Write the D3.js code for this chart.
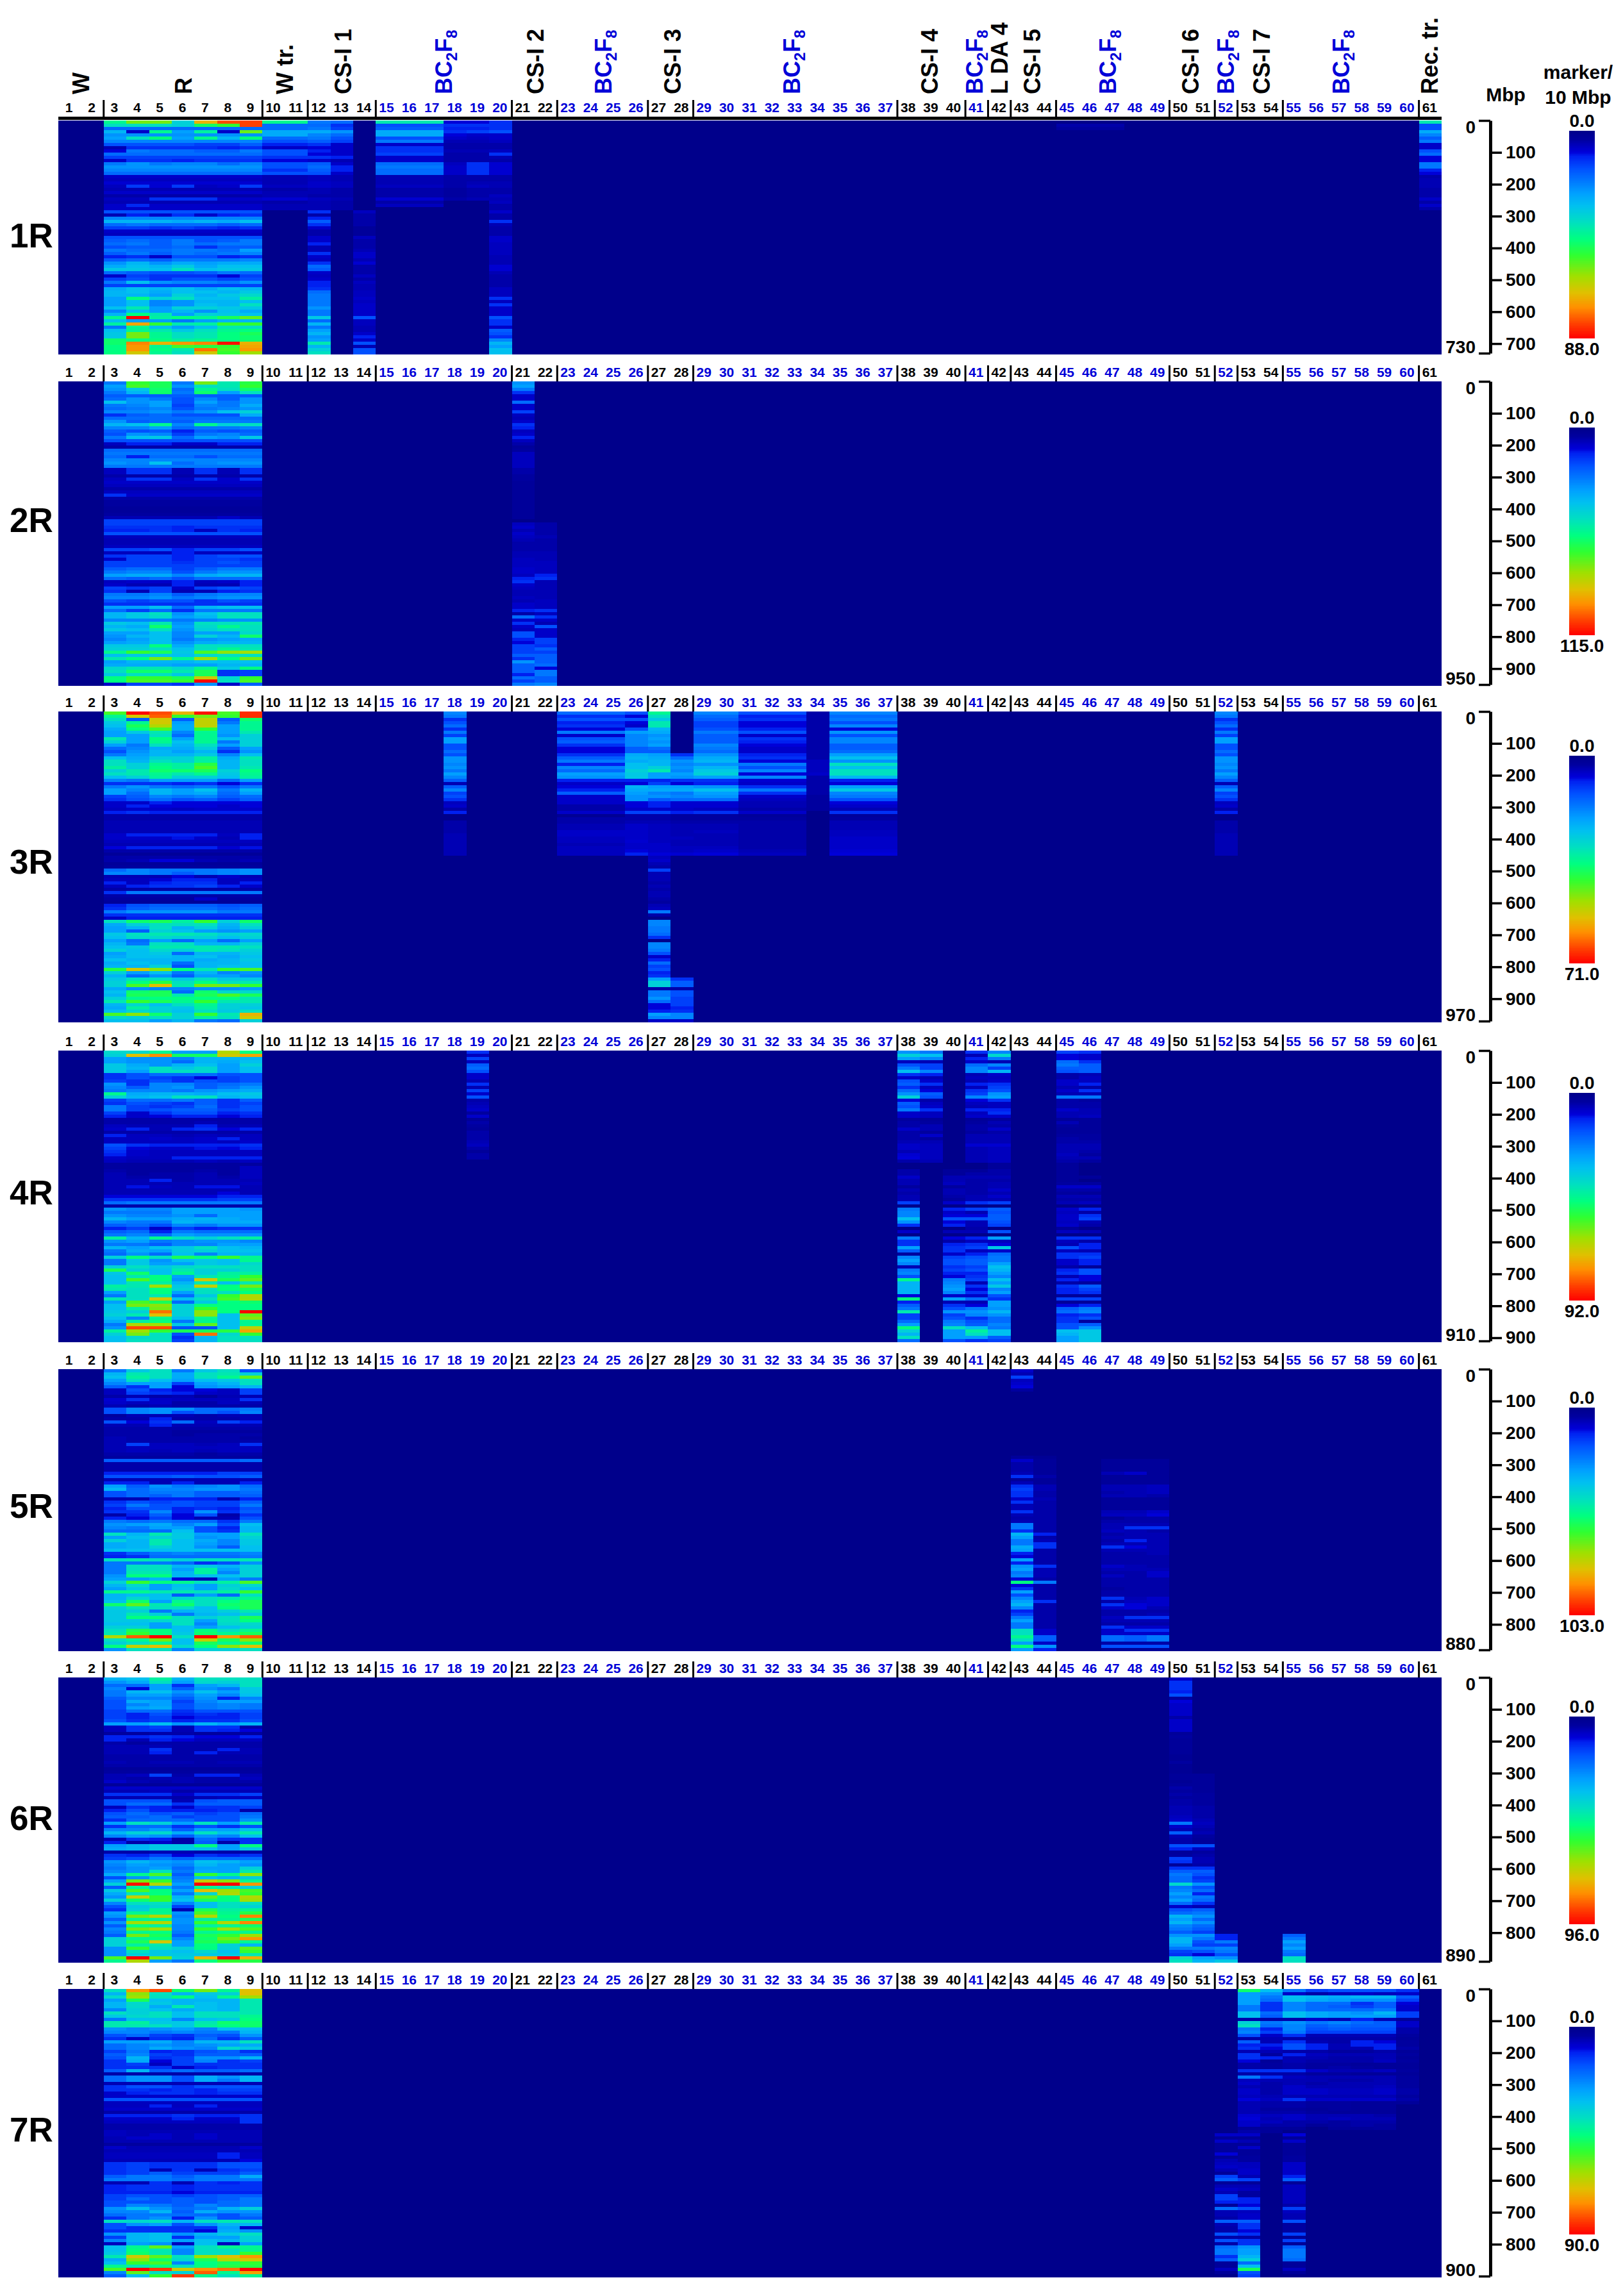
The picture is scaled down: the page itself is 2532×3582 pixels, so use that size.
<!DOCTYPE html>
<html>
<head>
<meta charset="utf-8">
<script src="https://cdn.jsdelivr.net/npm/d3@7/dist/d3.min.js"></script>
<style>
  html, body { margin: 0; background: #fff; }
  text { font-family: "Liberation Sans", Arial, sans-serif; font-weight: bold; }
</style>
</head>
<body>
<svg width="2532" height="3582"></svg>
<script>
var chromosomes = ["1R", "2R", "3R", "4R", "5R", "6R", "7R"];
var lengthsMbp = [730, 950, 970, 910, 880, 890, 900];
var scaleMax = ["88.0", "115.0", "71.0", "92.0", "103.0", "96.0", "90.0"];
var blueColumns = [15,16,17,18,19,20,23,24,25,26,29,30,31,32,33,34,35,36,37,41,45,46,47,48,49,52,55,56,57,58,59,60];
var separatorsAfter = [2,9,11,14,20,22,26,28,37,40,41,42,44,49,51,52,54,60];
var ryeColumns = [3,4,5,6,7,8,9];

// rye columns 3-9: a single number means the row looks the same across the seven columns
var rye1R = [[50,66,66,40,80,92,93],[44,44,44,40,55,60,93],22,[34,8,50,30,48,8,65],28,[30,44,52,30,50,34,52],26,[18,18,18,18,16,16,20],[6,14,14,14,14,12,14],[10,24,22,22,20,20,24],22,16,[8,14,14,12,14,14,14],[24,28,24,26,26,22,26],28,26,22,8,7,9,[7,15,9,15,7,8,15],6,8,5,[7,7,14,14,14,8,8],6,[8,13,8,8,8,8,8],8,18,[6,12,8,14,8,12,14],26,[34,34,34,32,34,32,36],[22,24,22,22,22,20,22],[16,16,14,16,14,12,14],8,7,18,[20,22,20,24,18,20,24],[22,24,20,24,22,24,24],[18,20,20,22,14,20,20],[24,22,22,24,24,22,30],[20,24,20,24,22,24,26],[12,14,8,18,18,12,14],[20,22,20,24,24,24,26],[28,34,28,32,30,32,32],[32,36,34,38,32,36,36],[38,38,36,44,36,38,38],[22,20,18,18,20,24,22],[8,16,14,14,14,10,16],[16,18,14,18,18,16,18],[24,36,28,26,26,24,28],16,[32,36,34,36,32,36,34],[34,36,32,36,36,34,38],[34,34,30,40,34,38,42],[30,52,40,44,36,36,48],[30,36,26,28,34,34,36],[30,36,26,28,36,34,44],[36,46,30,40,40,38,38],[26,36,30,34,28,36,32],[34,52,46,30,40,38,36],[50,100,48,52,50,56,64],[36,30,30,24,30,34,34],[48,82,60,46,48,60,60],[24,50,36,30,36,46,44],[36,50,46,38,44,50,52],[38,66,50,44,46,52,56],[38,66,50,44,46,52,54],[54,52,52,48,50,52,54],[54,86,80,84,86,98,80],[52,84,50,62,58,60,82],[52,84,52,46,88,62,84],[52,76,50,44,76,60,70]];
var rye2R = [[24,60,56,24,66,46,58],[30,62,56,28,44,46,60],[28,38,54,22,50,44,54],[24,34,54,24,54,30,44],20,[22,28,24,18,26,20,28],[36,28,30,18,30,24,28],[24,26,30,16,26,24,32],[22,24,26,18,24,26,28],[26,26,28,24,28,36,40],[14,20,22,18,18,18,32],22,[28,20,22,20,24,24,24],[34,36,50,26,50,40,44],[26,26,30,22,24,24,26],[20,18,20,12,20,18,20],[18,28,26,16,24,26,22],[24,36,38,22,30,28,38],18,[7,12,12,8,8,12,12],5,22,24,[22,12,22,22,18,22,22],26,[28,26,36,22,26,28,28],24,[7,14,14,6,14,6,14],[7,14,14,6,14,6,14],5,[7,14,14,7,14,8,14],8,7,5,7,[14,8,8,8,8,8,8],5,4,4,3,3,4,[6,6,6,6,6,8,6],16,16,[14,14,14,12,14,14,14],[12,12,14,12,7,14,12],18,7,6,6,7,[16,16,18,12,16,16,18],[7,7,7,12,7,7,7],[14,16,16,12,16,18,18],[8,16,16,12,16,16,14],[16,16,16,14,16,18,16],16,[20,22,22,16,20,24,24],[24,26,26,18,24,28,28],[30,32,32,26,32,34,34],[22,20,22,18,22,22,22],[7,8,8,12,7,8,12],[8,6,6,12,6,6,12],[16,14,16,8,16,18,16],[14,6,16,6,6,12,14],[24,24,26,20,24,26,26],[26,26,28,24,26,28,28],[18,16,18,18,14,18,16],[14,14,14,14,14,14,14],[30,30,36,22,34,36,36],[22,16,22,14,24,24,24],[34,38,44,28,36,44,44],[34,38,42,30,34,44,44],[26,26,26,24,26,28,28],[38,36,46,28,44,44,46],[34,32,54,30,42,50,44],[38,36,44,28,40,44,44],[30,30,36,26,30,30,42],[28,34,36,26,40,34,54],[26,30,36,24,28,30,32],[30,32,36,28,32,34,34],[38,38,52,32,44,44,44],[40,40,44,36,44,50,46],[50,60,56,38,62,68,70],[36,38,38,36,42,44,44],[46,52,66,50,70,52,66],[30,34,34,34,36,36,36],[32,32,32,30,30,34,34],[42,46,46,42,50,38,52],[44,54,54,46,56,14,16],[38,44,44,38,56,14,16],[52,60,60,56,76,42,60],[52,62,62,60,100,44,62],[8,16,16,14,28,8,20]];
var rye3R = [[62,100,92,80,98,62,95],[50,76,90,60,66,60,95],[44,20,76,20,74,20,54],[38,50,76,30,74,24,50],[36,56,72,32,74,30,50],[32,52,62,32,60,30,50],[30,38,46,26,50,30,46],[30,30,44,22,50,28,40],[46,30,52,30,50,36,40],[40,30,50,36,50,24,40],[30,24,44,34,44,30,40],[22,26,32,32,40,20,30],[18,28,34,30,34,14,28],[24,30,34,34,38,26,36],[36,32,40,40,48,32,46],[44,34,44,40,48,34,44],[44,40,50,48,58,34,44],[48,40,52,48,62,34,46],[40,46,54,54,56,40,52],[44,46,50,46,50,38,50],[36,40,48,40,40,36,48],[26,24,30,30,30,22,30],[14,14,14,12,14,10,14],[24,28,24,22,24,18,24],[30,26,34,30,36,24,34],[30,22,34,30,32,22,30],[16,20,26,24,26,20,22],[14,18,22,18,20,16,20],[8,8,12,10,10,10,10],[8,12,10,10,10,8,10],[7,8,8,7,8,8,8],[12,14,12,12,12,12,12],5,5,6,6,6,6,[8,12,12,12,12,7,12],[8,8,8,11,8,6,12],7,6,[10,12,12,12,12,9,11],5,3,5,[5,6,10,10,6,5,6],3,4,[22,26,24,24,24,26,28],[26,26,24,20,24,26,28],[6,6,6,10,6,8,6],[7,7,9,12,12,7,7],[12,7,12,14,14,7,12],[7,12,14,14,16,12,8],5,[14,24,24,24,24,24,24],5,[4,4,4,4,8,4,4],3,[12,18,20,20,20,18,20],[14,20,22,22,22,20,22],[24,28,28,28,28,24,24],14,[8,12,12,12,12,12,12],[44,54,56,48,60,40,54],[32,40,44,44,44,34,44],[30,34,44,34,40,32,40],[30,20,40,36,30,28,30],[38,44,46,46,44,40,42],[36,42,42,40,40,36,40],[30,22,30,22,30,22,30],[34,24,44,44,34,34,40],[36,38,46,46,46,46,44],[40,36,42,40,46,44,40],[30,36,38,22,34,34,38],[32,36,36,34,36,32,36],[36,34,34,34,32,34,38],[32,36,34,22,34,34,36],[34,34,40,18,34,36,36],[58,76,68,52,46,60,62],[40,30,36,24,34,26,28],[34,22,28,20,30,30,26],[38,44,44,38,44,38,38],[40,52,58,44,52,44,46],[40,62,78,46,66,66,60],[32,28,26,26,28,28,30],[36,54,56,22,54,42,42],[34,56,56,46,56,62,56],[40,50,52,52,52,52,46],[46,60,56,50,60,46,46],[34,42,36,44,50,40,40],[32,48,40,38,48,40,38],[36,42,40,36,44,38,44],[62,68,54,40,60,46,80],[42,40,44,40,48,44,76],[36,36,30,34,24,22,40]];
var rye4R = [[42,42,50,30,30,72,52],[40,78,85,55,55,76,82],[30,28,28,26,34,34,34],[30,28,28,22,34,32,36],[38,32,28,34,36,30,40],[38,34,44,38,42,30,36],[38,30,44,44,42,30,36],[14,18,22,22,22,18,18],[14,18,16,14,10,16,18],[16,14,18,14,18,16,18],[28,14,26,26,20,22,24],[26,20,26,28,20,24,28],[24,26,26,24,28,30,32],[50,32,34,34,32,36,38],[40,34,36,44,44,34,36],[16,22,22,24,20,14,20],[14,18,16,14,20,14,16],[24,16,14,16,22,14,18],[24,16,18,20,20,16,18],[16,8,14,18,18,12,14],[12,8,10,12,12,10,12],5,[5,5,5,5,6,5,5],[7,6,6,6,12,6,6],[8,12,6,12,14,10,12],5,[12,7,7,6,7,6,7],[7,7,8,7,8,12,7],[7,7,7,7,8,7,8],[18,14,12,12,12,12,14],[16,10,8,8,11,10,12],[14,8,7,7,7,7,7],[12,8,7,7,7,7,7],[8,7,7,12,12,12,12],[7,6,6,6,7,6,7],4,[4,4,4,4,4,4,7],[5,4,4,4,5,4,7],[6,4,5,5,6,4,7],[6,5,5,5,6,5,7],[6,6,12,5,6,6,6],[6,6,6,6,6,6,7],[6,11,7,6,11,11,6],6,[6,6,6,6,6,10,6],[10,10,10,10,10,12,12],[14,14,14,14,14,16,16],[22,24,24,24,24,24,24],5,[28,26,26,30,30,30,28],[24,24,24,30,30,30,30],[28,26,26,28,22,30,30],[34,30,30,32,34,32,30],[26,24,24,34,32,32,32],[20,22,18,26,24,28,28],[12,16,8,16,12,14,14],[20,22,12,24,22,22,22],[24,26,22,30,28,28,28],[48,34,50,44,40,44,48],[28,30,24,26,28,28,26],[24,24,20,26,26,30,30],[34,30,36,38,44,36,34],[24,32,30,38,40,36,36],[22,28,22,36,26,34,34],[40,52,44,56,52,60,50],[24,38,28,36,38,36,50],[24,38,30,30,38,36,42],[40,44,38,42,44,44,44],[56,40,36,46,40,40,44],[38,54,36,50,40,48,48],[36,46,52,30,46,50,60],[36,62,52,28,76,56,64],[36,46,48,34,46,36,46],[48,46,70,38,74,52,66],[46,44,52,40,44,52,56],[30,44,52,30,44,44,52],[24,44,46,22,38,60,72],[46,44,76,36,44,62,72],[30,62,56,22,38,52,54],[36,66,68,40,52,52,52],[36,48,66,40,60,52,52],[38,40,88,40,68,52,100],[40,46,78,40,68,36,64],[36,26,50,36,50,36,68],[32,48,52,24,50,36,50],[24,72,70,38,64,36,50],[28,92,92,18,18,36,74],[48,70,60,56,56,58,82],[40,66,44,18,88,42,60],[36,42,44,14,34,44,44],[36,44,44,16,34,44,44]];
var rye5R = [[24,38,44,24,38,44,18],[34,46,44,32,44,46,40],[36,48,44,32,44,50,64],[30,44,36,30,36,38,44],[26,30,30,16,30,34,44],[20,14,30,10,28,30,34],[7,18,12,10,10,7,16],[7,16,14,12,8,7,16],[5,6,5,6,4,6,6],[9,14,8,7,7,7,14],[8,7,8,5,5,7,6],[6,5,6,5,5,5,5],[18,26,28,28,22,22,24],[18,26,28,18,22,18,26],[4,6,6,6,5,6,6],[5,5,12,5,5,5,6],[18,10,14,22,7,16,12],[6,6,12,6,6,6,6],5,[5,5,5,4,4,4,4],[5,5,5,4,5,5,5],[6,5,5,5,5,5,4],[6,5,5,5,5,5,5],[6,16,7,7,6,7,14],[6,7,7,7,7,7,7],[6,7,6,7,6,7,7],[5,5,5,5,4,5,5],4,[20,20,20,20,20,20,22],5,5,5,[12,12,12,12,12,16,16],[18,18,18,20,18,18,20],6,[12,12,6,12,6,6,12],[30,20,28,24,26,28,22],[34,22,26,26,28,28,24],[18,22,24,24,20,20,22],[18,22,20,24,20,20,20],[6,6,12,12,12,6,12],[14,18,16,18,16,16,20],[16,24,18,18,16,16,24],[12,18,18,12,14,12,18],[14,14,26,12,28,14,20],[5,12,20,10,18,5,14],[12,10,16,10,6,6,18],[24,22,24,22,22,14,24],[28,30,32,26,30,18,36],[26,24,30,30,18,12,34],[22,22,22,36,18,14,34],[44,34,46,38,30,30,44],[30,36,40,38,28,30,40],[40,34,46,36,32,26,38],[32,34,46,36,30,26,38],[32,34,40,36,28,20,36],36,[14,20,24,26,24,24,26],[12,14,22,22,22,22,24],[44,46,44,40,44,44,46],[24,24,24,22,14,18,28],[24,44,44,34,38,34,40],[24,44,44,30,48,30,40],[24,46,46,34,48,26,40],[28,52,52,34,36,36,40],[30,30,34,10,6,30,24],[40,60,52,50,44,48,62],[34,42,30,36,30,40,42],[30,38,30,38,30,42,36],[50,50,46,46,44,48,60],[34,36,36,20,30,22,44],[34,42,36,42,44,46,50],[36,54,30,50,44,52,56],[54,64,46,54,44,54,56],[40,46,44,44,36,52,56],[38,40,24,34,36,40,46],[38,46,40,24,34,36,40],[38,52,52,44,40,44,56],[38,38,42,44,30,44,52],[36,36,30,44,26,42,42],[40,40,30,36,30,36,40],[44,56,52,36,52,44,50],[46,60,52,38,54,50,56],[72,90,100,44,100,84,90],[44,50,66,36,74,56,68],[40,44,50,36,56,50,54],[52,74,78,42,52,68,78],[28,44,44,26,40,40,44]];
var rye6R = [[34,36,48,34,44,44,44],[28,32,44,30,42,40,44],[22,22,30,14,30,34,44],[26,10,30,20,28,24,38],[24,34,36,28,36,30,38],[24,30,30,24,30,26,36],[20,26,26,20,28,12,26],[18,32,30,16,26,30,30],[18,26,30,18,24,26,24],[18,30,32,18,24,26,24],[16,22,22,14,18,18,18],[16,12,18,12,14,12,16],[16,12,16,10,12,12,16],[18,14,16,12,14,14,18],[30,30,36,28,34,30,34],[7,14,16,6,14,14,5],[7,14,14,6,14,12,10],[4,4,5,5,4,4,4],[12,12,14,12,10,10,12],[12,6,12,10,7,7,7],[5,4,5,5,5,5,5],[6,6,6,5,5,5,5],[6,6,14,5,5,12,6],[6,6,12,5,12,6,6],5,5,[6,5,6,6,5,6,6],5,3,4,[6,7,16,5,12,12,6],[6,5,6,6,5,5,7],[8,6,5,6,5,5,5],3,8,[6,6,7,5,6,6,6],[14,14,14,8,14,14,16],[6,6,6,5,6,7,7],[18,18,18,6,18,20,20],[18,22,22,14,20,20,20],[7,14,12,8,14,14,16],[12,18,12,12,12,14,5],[18,22,18,20,16,18,22],[20,20,22,16,18,18,24],[14,22,22,22,18,18,28],[30,44,40,30,44,30,46],[14,22,22,14,18,14,18],[26,26,30,20,30,30,36],[34,40,42,32,44,36,46],[26,30,28,20,28,26,36],[6,14,12,5,22,14,14],[12,5,8,5,20,5,14],[30,34,38,38,52,30,52],[32,34,38,38,36,30,38],[5,5,6,6,5,5,5],[14,12,16,10,14,12,14],[16,18,24,20,22,22,22],[28,34,30,28,36,34,30],[26,30,28,26,34,30,28],[24,28,30,22,30,30,40],[26,28,44,24,32,30,46],[32,50,62,20,60,50,68],[18,28,40,24,36,34,40],[30,66,60,26,74,68,50],[40,98,72,30,100,100,84],[20,50,34,24,50,46,40],[38,62,52,30,78,70,62],[32,46,52,24,42,72,60],[28,74,60,34,64,52,72],[40,54,60,36,56,52,70],[26,44,44,26,36,44,44],[18,38,42,16,36,44,40],[14,40,50,6,56,48,50],[30,50,50,28,62,50,58],[28,66,72,26,72,52,86],[20,50,50,28,48,50,56],[28,70,72,28,60,72,86],[20,52,48,26,48,50,54],[26,66,70,26,60,70,62],[24,50,52,24,50,52,50],[20,66,56,20,56,60,70],[40,50,52,26,54,66,84],[40,56,76,30,56,60,50],[40,48,46,30,52,40,34],[28,60,44,40,52,40,64],[28,44,38,36,42,36,60],[28,40,38,38,38,38,46],[62,100,66,40,80,100,80],[50,72,30,24,52,60,58]];
var rye7R = [[44,84,92,54,66,50,78],[34,68,44,34,38,40,78],[42,70,44,52,36,50,70],[30,56,36,34,34,34,46],[34,42,38,34,36,34,46],[34,42,32,46,36,34,46],[26,40,36,32,36,34,46],[44,40,44,36,44,44,46],[38,42,44,36,44,44,50],[24,36,36,26,36,38,52],[46,48,38,38,46,54,54],[46,46,44,38,48,52,54],[28,26,28,30,26,36,36],[26,26,24,26,24,24,34],[18,22,16,14,20,18,28],[14,8,14,12,22,14,20],[30,30,32,26,34,34,44],[22,26,28,26,28,30,32],[22,26,32,28,26,42,38],[16,24,12,14,18,20,14],[20,26,16,14,20,20,20],[18,34,14,16,28,28,34],[14,32,10,16,26,14,16],[14,16,7,16,14,14,14],[14,14,14,8,12,14,14],[20,34,20,22,20,20,22],5,[22,28,28,18,32,28,34],[22,28,28,18,32,24,34],6,[14,18,18,14,18,18,18],[14,14,12,14,12,16,16],[8,12,14,14,12,14,14],8,18,7,[7,7,12,7,12,7,7],8,5,[12,12,12,14,12,12,14],[8,8,8,12,8,8,14],[7,7,7,7,7,7,14],5,5,[7,6,6,6,6,6,6],[7,6,8,6,8,6,6],[6,8,8,6,8,6,6],6,4,[8,6,6,6,6,6,8],6,[7,7,7,7,7,12,7],[7,7,7,7,7,12,7],[6,6,6,6,6,6,10],[14,16,14,14,14,18,18],[14,16,14,14,14,18,18],[14,16,6,14,6,14,16],[14,16,20,16,16,16,20],[20,24,24,20,24,24,32],[24,24,24,22,24,24,24],[6,6,14,6,14,12,14],[12,14,14,12,14,14,14],[12,14,14,12,14,14,14],[12,12,12,10,12,12,12],[16,18,18,16,18,20,20],[16,22,18,20,18,20,24],[18,18,18,20,18,22,24],[18,26,24,20,26,22,24],[28,36,28,22,24,34,40],[26,26,34,20,32,28,28],[22,24,24,22,22,18,24],[14,24,28,12,28,18,20],[44,42,44,34,44,46,44],[18,28,30,18,28,34,34],[18,14,14,14,14,30,8],[14,14,14,14,10,32,28],[28,34,36,28,34,38,44],[16,34,36,14,30,30,40],[26,34,36,30,36,34,40],[7,30,28,7,36,7,30],[36,50,64,30,44,50,50],[36,52,46,26,44,44,50],[38,54,46,26,44,44,60],[46,76,64,44,70,78,84],[32,68,54,42,56,72,76],[36,60,62,26,52,56,60],[50,46,52,44,52,58,58],[62,100,94,76,84,88,100],[26,64,44,40,90,50,82],[20,36,60,94,50,44,50]];

// other lines, top row first
var w10_1R = [50,22,22,32,32,22,18,12,8,18,18,14,10,18,18,14,18,6,6,6,7,5,6,6,9,5,6,6];
var c12_1R = [24,22,24,32,26,24,20,14,10,12,10,14,8,20,22,20,18,7,7,8,8,6,6,5,7,6,6,6,14,5,12,20,14,8,5,5,8,8,12,6,6,14,8,7,14,22,20,8,7,8,12,12,14,22,24,24,24,24,28,24,24,38,22,34,24,30,34,28,30,46,34,40,44];
var c13_1R = [22,14,16,28,22,18,16,8,8,8,8,12,6,8,12,12,8,6,6,7,7,5,5,5,6,5,5,5];
var c14_1R = [7,5,5,5,5,3,3,3,7,5,5,5,6,8,8,6,9,5,5,5,7,5,7,6,6,7,7,8,7,8,8,8,8,18,7,7,6,6,8,12,8,18,6,18,18];
var c15_1R = [46,18,20,32,32,18,24,8,14,14,16,8,8,22,24,22,22,6,6,6,7,5,5,5,9,5,7];
var c18_1R = [10,14,12,14,10,8,6,5,5,6,5,5,5,7,8,8,8,5,5,5,5,4,4,4,5];
var c19_1R = [10,14,12,16,8,7,6,5,5,6,5,5,5,14,14,14,14,5,5,6,7,5,5,5,6];
var c20_1R = [14,14,14,18,8,8,7,5,5,7,14,6,5,9,9,9,9,5,5,6,6,5,5,7,6,7,5,5,8,5,5,14,6,5,5,5,8,8,7,7,7,7,6,6,6,9,9,6,5,5,5,5,7,7,7,14,7,14,8,8,8,18,14,14,8,20,18,14,26,34,30,36,36];
var c45_1R = [0,5,4];
var c61_1R = [46,18,18,32,26,20,24,8,8,18,22,10,10,24,24,12,10,5,6,6,6,5,5,5,8,5,8,5];

var c21_2R = [28,30,24,14,8,8,22,8,8,16,7,6,8,14,12,7,8,12,7,5,3,4,7,7,7,7,7,5,5,4,4,3,3,3,3,3,3,3,3,3,3,3,3,0,7,8,6,8,7,6,5,5,5,6,6,7,7,7,8,8,7,12,14,8,7,6,6,7,6,8,8,12,5,22,8,14,8,7,18,18,12,10,16,16,16,20,14,28,20,20,20,12,22,16,24];
var c22_2R = [5,5,5,5,6,5,5,5,5,6,6,6,7,7,7,7,12,14,6,6,6,6,6,6,7,7,7,14,7,14,8,6,18,8,8,8,16,16,14,20,16,20,20,20,22,10,24,24,20,20,26];

var c18_3R = [26,24,14,18,22,14,24,16,30,30,18,18,22,18,28,28,26,28,24,30,26,20,6,20,26,16,18,14,7,8,5,12,0,0,5,5,5,5,6,6,6,6,6,6,6];
var c23_3R = [22,14,18,12,14,10,24,8,18,20,14,10,10,14,20,24,12,26,22,30,28,12,8,10,12,20,8,8,8,5,5,8,2,5,5,6,6,8,8,7,7,6,7,7,7];
var c26_3R = [18,10,18,10,8,18,30,26,26,26,26,20,20,32,34,32,36,36,40,38,38,12,10,34,32,30,28,28,10,10,8,16,5,5,6,8,8,8,8,8,9,8,8,10,12];
var c27_3R = [50,44,38,46,46,34,32,28,30,28,30,22,20,30,32,34,34,40,46,30,30,12,16,30,32,26,28,20,12,12,8,16,5,5,6,7,7,7,7,7,7,8,8,8,10,7,8,6,5,16,6,6,6,5,6,5,6,6,5,4,6,7,24,5,0,26,26,24,24,22,14,0,26,26,24,18,8,12,22,16,18,12,14,30,40,40,5,24,24,28,22,10,10,12,30,26,8];
var c28_3R = [0,0,0,0,0,0,0,0,0,0,0,0,0,14,22,28,26,28,26,30,28,14,10,30,32,24,26,22,9,9,8,12,4,4,5,6,6,6,6,7,6,6,7,7,9,0,0,0,0,0,0,0,0,0,0,0,0,0,0,0,0,0,0,0,0,0,0,0,0,0,0,0,0,0,0,0,0,0,0,0,0,0,0,14,20,20,5,18,18,16,16,16,12,14,26,26,8];
var c29_3R = [26,22,20,16,16,18,24,20,20,20,26,24,22,28,32,34,28,34,38,40,30,14,12,28,36,30,28,22,9,9,7,14,4,4,5,6,6,7,6,6,6,6,7,8,10];
var c31_3R = [18,12,14,10,10,12,18,8,14,12,10,8,8,12,14,10,24,18,26,10,26,9,8,14,24,14,8,7,6,6,5,8,3,4,5,5,5,5,5,5,5,5,5,6,7];
var c34_3R = [5,5,5,5,5,5,5,5,5,5,5,5,5,5,5,7,7,7,7,8,5,5,5,5,5,5,4,4,4,4,4];
var c35_3R = [26,22,24,18,26,10,28,18,26,26,20,20,22,30,36,28,44,36,44,44,34,12,10,30,38,26,24,18,10,8,6,14,3,4,6,6,6,7,7,8,8,8,8,9,10];

var c19_4R = [14,7,16,7,20,22,18,8,8,6,14,6,16,8,18,5,6,7,8,4,8,3,5,4,3,5,5,5,6,7,5,3,5,5];
var c38_4R = [28,40,30,7,18,24,36,14,8,18,20,14,22,28,40,10,20,18,24,8,8,4,5,5,8,5,5,5,6,8,8,6,9,10,5,0,0,5,5,8,6,6,4,6,5,6,6,16,0,24,26,26,36,28,14,0,8,0,24,14,14,30,20,4,26,30,26,6,24,26,18,50,34,34,34,34,10,52,12,20,24,46,16,16,22,30,52,40,34,44,22];
var c39_4R = [24,36,26,6,16,16,26,12,6,8,14,7,10,20,18,5,7,8,14,7,7,3,4,6,6,4,8,4,6,7,7,7,7,7,6];
var c40_4R = [0,0,0,0,0,0,0,0,0,0,0,0,0,0,0,0,0,0,0,0,0,0,0,0,0,0,0,0,0,0,0,0,0,0,0,0,0,3,3,6,6,7,4,6,6,5,4,8,0,12,8,10,18,10,12,0,6,0,10,5,12,14,14,8,16,18,18,14,16,12,10,24,26,28,30,26,8,30,6,14,18,28,16,18,24,26,44,30,30,30,18];
var c41_4R = [14,6,12,8,22,26,26,6,7,6,12,7,14,16,26,10,7,6,12,7,8,3,4,5,5,4,6,6,6,9,6,6,6,6,6,0,0,3,5,6,5,5,5,5,5,6,6,14,0,16,6,10,18,6,6,5,6,0,12,7,14,16,7,12,18,20,20,16,18,12,14,16,6,14,10,14,8,22,6,10,24,28,26,14,18,20,36,48,44,30,14];
var c42_4R = [26,42,24,6,26,16,34,8,7,8,14,16,18,28,30,14,7,7,12,14,8,4,6,5,8,5,6,6,6,9,7,7,7,7,7,3,3,5,5,6,5,6,6,8,6,8,6,16,0,20,18,20,20,18,16,0,18,0,30,7,10,38,8,22,24,24,30,36,34,30,26,36,30,38,26,30,18,14,30,30,28,34,28,22,22,26,24,36,36,20,16];
var c45_4R = [16,10,10,22,24,20,18,5,5,8,8,6,8,6,24,5,5,5,8,6,6,3,6,4,3,3,4,5,5,6,6,6,7,6,5,3,3,3,3,3,3,4,8,5,4,6,5,6,0,8,7,8,8,7,8,3,7,0,14,7,6,18,7,14,14,8,8,5,12,14,6,12,5,14,12,12,3,16,3,10,20,22,12,14,14,18,18,36,34,30,30];
var c46_4R = [14,8,8,14,20,20,20,6,7,7,12,5,14,6,24,4,5,5,6,6,7,3,3,3,3,3,4,4,5,6,6,5,4,6,4,0,0,0,0,3,0,4,8,5,3,6,5,7,0,12,5,14,16,6,5,0,6,0,14,5,12,12,6,14,16,12,12,3,18,18,10,10,4,20,16,14,3,16,3,12,24,26,14,18,4,20,28,38,38,38,38];

var c43_5R = [8,6,16,7,8,10,4,0,0,0,0,0,0,0,0,0,0,0,0,0,0,0,0,0,0,0,0,3,8,5,5,5,6,14,3,6,14,16,14,14,8,14,6,6,14,6,5,6,24,24,14,34,30,24,24,32,30,12,10,30,12,28,30,24,26,10,52,10,14,30,18,26,30,34,26,12,16,24,30,24,24,44,44,50,44,30,52,30];
var c44_5R = [0,0,0,0,0,0,0,0,0,0,0,0,0,0,0,0,0,0,0,0,0,0,0,0,0,0,0,2,3,3,3,3,3,5,3,3,6,6,5,5,6,5,5,5,5,5,5,5,5,5,5,12,5,6,14,14,5,5,5,5,5,14,6,6,6,5,24,5,5,5,5,5,14,5,5,5,5,5,5,5,5,8,8,20,20,8,28,12];
var c47_5R = [0,0,0,0,0,0,0,0,0,0,0,0,0,0,0,0,0,0,0,0,0,0,0,0,0,0,0,0,3,3,3,3,6,3,3,3,6,6,5,6,3,3,3,3,6,7,3,5,6,6,7,5,6,5,6,14,6,5,5,5,5,8,6,5,7,5,5,5,4,5,5,14,5,14,8,5,5,7,6,5,14,8,8,22,22,5,18,3];
var c48_5R = [0,0,0,0,0,0,0,0,0,0,0,0,0,0,0,0,0,0,0,0,0,0,0,0,0,0,0,0,3,3,3,3,8,3,3,3,6,6,6,6,3,3,3,3,6,7,5,5,6,14,6,6,6,12,6,10,6,5,5,5,5,6,6,5,5,5,5,5,5,5,5,6,7,10,10,5,5,14,6,5,8,14,8,20,20,5,18,3];
var c49_5R = [0,0,0,0,0,0,0,0,0,0,0,0,0,0,0,0,0,0,0,0,0,0,0,0,0,0,0,0,3,3,3,3,3,3,3,3,7,7,7,5,3,3,3,3,8,10,5,5,6,14,5,6,6,6,6,6,6,6,5,5,5,5,6,8,8,5,5,5,5,5,5,8,8,8,6,5,6,14,6,5,8,14,8,24,24,5,18,3];

var c50_6R = [8,14,14,14,12,18,4,10,8,8,8,8,5,8,8,8,8,3,4,3,3,3,3,3,2,2,4,2,2,2,3,3,2,3,5,4,5,4,5,5,6,6,6,7,8,24,8,6,20,6,5,5,18,12,3,4,16,14,3,14,20,24,22,22,42,24,26,30,26,30,22,8,18,22,34,30,34,26,24,20,28,34,34,30,24,16,14,40,44];
var c51_6R = [0,0,0,0,0,0,0,0,0,0,0,0,0,0,0,0,0,0,0,0,0,0,0,0,0,0,0,0,0,0,3,3,3,3,3,3,4,4,4,4,5,5,5,5,6,7,6,5,6,4,3,3,18,7,4,5,6,6,5,14,20,18,14,16,28,18,22,12,24,22,14,6,20,24,28,22,28,22,20,16,28,24,18,16,24,18,10,30,34];
var c52_6R = [12,12,24,16,26,24,18,28,38];
var c55_6R = [20,24,30,26,30,24,22,44,44];

var c52_7R = [8,3,8,3,3,3,10,3,6,7,8,6,3,16,20,3,6,8,6,16,16,12,3,22,6,6,5,20,6,5,5,18,5,18,5,22,24,24,14,20,3,3,7,3];
var c53_7R = [54,30,30,30,30,24,24,36,36,5,40,44,24,26,18,5,20,12,14,6,14,14,10,5,5,14,5,24,7,8,6,8,8,7,10,6,6,6,6,9,10,8,8,3,5,8,3,6,3,8,3,3,4,4,7,7,8,8,6,16,3,6,7,4,4,12,12,10,18,7,8,8,20,14,14,10,14,5,14,14,28,30,30,34,40,22,36,56,18,16];
var c54_7R = [36,28,24,22,14,14,14,22,20,5,24,22,12,16,8,6,6,12,10,6,4,12,3,4,4,14,5,14,6,5,5,5,5,6,7,5,5,4,5,7,6,7,5,3,3];
var c55_7R = [24,8,36,36,26,26,26,36,36,5,28,26,26,24,14,5,14,18,18,5,12,6,6,5,5,14,5,7,6,6,8,8,8,6,14,5,5,4,5,8,8,5,5,3,0,10,3,8,3,3,3,3,4,4,8,8,8,8,12,20,3,7,7,7,7,7,7,5,16,7,6,6,18,4,4,4,16,3,16,3,20,24,24,24,22,3,3,7,3];
var c56_7R = [16,5,34,32,22,22,22,32,32,8,24,20,18,16,6,5,6,12,12,5,7,6,5,4,4,8,4,6,6,5,6,8,8,6,8,4,4,3,4,6,6,5,3];
var c57_7R = [18,7,32,30,22,20,22,30,30,6,26,22,20,16,6,5,5,6,6,4,6,5,5,4,5,6,4,6,5,6,6,7,7,6,8,4,4,4,3,6,7,4,4,3];
var c58_7R = [18,8,34,28,14,16,22,28,30,12,22,20,18,16,6,5,12,12,6,4,6,5,5,3,4,6,3,6,5,6,6,7,7,6,8,3,3,3,3,6,6,5,5,3];
var c59_7R = [18,7,34,28,20,20,24,34,30,6,20,20,18,16,6,5,10,12,12,5,6,6,7,3,3,7,3,6,6,6,7,8,8,6,8,3,3,3,3,5,6,5,4,4];
var c60_7R = [14,8,20,16,10,8,8,16,16,3,8,8,5,5,4,3,4,4,5,3,4,3,4,3,3,4,3,4,4,4,4,5,5,4,5,3];

// which columns use which list, and the row the list starts at
var rye = [rye1R, rye2R, rye3R, rye4R, rye5R, rye6R, rye7R];
var lines = [
  [[[10,11],0,w10_1R],[[12],0,c12_1R],[[13],0,c13_1R],[[14],28,c14_1R],[[15,16,17],0,c15_1R],[[18],0,c18_1R],[[19],0,c19_1R],[[20],0,c20_1R],[[45,46,47],0,c45_1R],[[61],0,c61_1R]],
  [[[21],0,c21_2R],[[22],44,c22_2R]],
  [[[18,52],0,c18_3R],[[23,24,25],0,c23_3R],[[26],0,c26_3R],[[27],0,c27_3R],[[28],0,c28_3R],[[29,30],0,c29_3R],[[31,32,33],0,c31_3R],[[34],0,c34_3R],[[35,36,37],0,c35_3R]],
  [[[19],0,c19_4R],[[38],0,c38_4R],[[39],0,c39_4R],[[40],0,c40_4R],[[41],0,c41_4R],[[42],0,c42_4R],[[45],0,c45_4R],[[46],0,c46_4R]],
  [[[43],0,c43_5R],[[44],0,c44_5R],[[47],0,c47_5R],[[48],0,c48_5R],[[49],0,c49_5R]],
  [[[50],0,c50_6R],[[51],0,c51_6R],[[52],80,c52_6R],[[55],80,c55_6R]],
  [[[52],45,c52_7R],[[53],0,c53_7R],[[54],0,c54_7R],[[55],0,c55_7R],[[56],0,c56_7R],[[57],0,c57_7R],[[58],0,c58_7R],[[59],0,c59_7R],[[60],0,c60_7R]]
];

var headerLabels = [
  {t:"W", x:126}, {t:"R", x:286}, {t:"W tr.", x:444}, {t:"CS-I 1", x:535}, {t:"BC", x:692, b:1},
  {t:"CS-I 2", x:835}, {t:"BC", x:941, b:1}, {t:"CS-I 3", x:1049}, {t:"BC", x:1235, b:1},
  {t:"CS-I 4", x:1450}, {t:"BC", x:1520, b:1}, {t:"L DA 4", x:1559}, {t:"CS-I 5", x:1610},
  {t:"BC", x:1728, b:1}, {t:"CS-I 6", x:1857}, {t:"BC", x:1912, b:1}, {t:"CS-I 7", x:1968},
  {t:"BC", x:2092, b:1}, {t:"Rec. tr.", x:2230}
];

var svg = d3.select("svg");
var black = "#000", blue = "#0000d8";

var panelTop = [188, 595, 1110, 1639, 2136, 2617, 3103];
var labelY = [367, 811, 1344, 1860, 2349, 2836, 3322];
var legendTop = [204, 667, 1179, 1705, 2196, 2678, 3162];
var rowH = 5, legendH = 323;

var x = d3.scaleBand().domain(d3.range(1, 62)).range([91, 2249]);

var color = d3.scaleLinear()
    .domain([0, 4, 8, 10, 12, 18, 24, 30, 36, 44, 52, 60, 70, 78, 85, 93, 100])
    .range(["#00008b","#00009f","#0000c8","#0000d8","#0020f0","#0050ff","#0078ff","#00a0ff","#00c0f0","#00e0c0","#00ff80","#30ff30","#a0e000","#e0c000","#ff9000","#ff4000","#ff0000"])
    .clamp(true);

function buildCells(p, nRows) {
  var cells = [];
  rye[p].forEach(function(row, r) {
    ryeColumns.forEach(function(col, i) {
      cells.push({col: col, row: r, v: Array.isArray(row) ? row[i] : row});
    });
  });
  lines[p].forEach(function(l) {
    l[0].forEach(function(col) {
      l[2].forEach(function(v, i) {
        if (v > 0) cells.push({col: col, row: l[1] + i, v: v});
      });
    });
  });
  return cells.filter(function(c) { return c.row < nRows; });
}

chromosomes.forEach(function(name, p) {
  var nRows = lengthsMbp[p] / 10;
  var top = panelTop[p];
  var bottom = top + nRows * rowH;
  var g = svg.append("g").attr("class", "panel");

  var y = d3.scaleBand().domain(d3.range(nRows)).range([top, bottom]);

  g.append("rect")
      .attr("x", x.range()[0]).attr("y", top)
      .attr("width", x.range()[1] - x.range()[0]).attr("height", bottom - top)
      .attr("fill", color(0));

  // a slight softening, the cell edges are not razor sharp in the original
  g.append("g").style("filter", "blur(0.6px)").selectAll("rect")
    .data(buildCells(p, nRows))
    .enter().append("rect")
      .attr("x", function(d) { return x(d.col); })
      .attr("y", function(d) { return y(d.row); })
      .attr("width", x.bandwidth())
      .attr("height", y.bandwidth())
      .attr("shape-rendering", "crispEdges")
      .attr("fill", function(d) { return color(d.v); });

  // line numbers above the panel, the first panel sits a little higher
  var numY = p == 0 ? top - 13 : top - 7;
  g.append("g").selectAll("text")
    .data(x.domain())
    .enter().append("text")
      .attr("x", function(d) { return x(d) + x.bandwidth() / 2 - 1; })
      .attr("y", numY)
      .attr("text-anchor", "middle")
      .attr("font-size", 21)
      .attr("fill", function(d) { return blueColumns.indexOf(d) >= 0 ? blue : black; })
      .text(function(d) { return d; });

  var sepTop = p == 0 ? top - 32 : top - 25;
  g.append("g").selectAll("line")
    .data(separatorsAfter)
    .enter().append("line")
      .attr("x1", function(d) { return x(d) + x.bandwidth(); })
      .attr("x2", function(d) { return x(d) + x.bandwidth(); })
      .attr("y1", sepTop)
      .attr("y2", top - (p == 0 ? 4 : 0))
      .attr("stroke", black)
      .attr("stroke-width", 3);

  g.append("text")
      .attr("x", 49).attr("y", labelY[p] + 19)
      .attr("text-anchor", "middle")
      .attr("font-size", 53)
      .text(name);

  // Mbp ruler
  var ruler = d3.scaleLinear().domain([0, lengthsMbp[p]]).range([top, bottom - 2]);
  var right = svg.append("g")
      .attr("transform", "translate(2325,0)")
      .call(d3.axisRight(ruler).tickValues(d3.range(100, lengthsMbp[p], 100)).tickSize(18).tickPadding(6).tickSizeOuter(0));
  right.select(".domain").attr("stroke-width", 5);
  right.selectAll(".tick line").attr("stroke-width", 3.5);
  right.selectAll("text").attr("font-size", 28).attr("fill", black);
  right.attr("font-family", null);

  var left = svg.append("g")
      .attr("transform", "translate(2325,0)")
      .call(d3.axisLeft(ruler).tickValues([0, lengthsMbp[p]]).tickSize(18).tickPadding(5).tickSizeOuter(0));
  left.select(".domain").remove();
  left.selectAll(".tick line").attr("stroke-width", 3.5);
  left.attr("font-family", null);
  left.selectAll("text")
      .attr("font-size", 28)
      .attr("fill", black)
      .attr("dy", function(d) { return d == 0 ? "0.68em" : "-0.02em"; });

  // colour key, top is 0
  var lt = legendTop[p];
  var key = d3.scaleLinear().domain([0, 100]).range([lt, lt + legendH]);
  svg.append("g").selectAll("rect")
    .data(d3.range(0, 100, 0.5))
    .enter().append("rect")
      .attr("x", 2448).attr("width", 40)
      .attr("y", function(d) { return key(d); })
      .attr("height", key(0.5) - key(0) + 0.5)
      .attr("shape-rendering", "crispEdges")
      .attr("fill", function(d) { return color(d); });
  svg.append("text").attr("x", 2468).attr("y", lt - 6).attr("text-anchor", "middle").attr("font-size", 28).text("0.0");
  svg.append("text").attr("x", 2468).attr("y", lt + legendH + 27).attr("text-anchor", "middle").attr("font-size", 28).text(scaleMax[p]);
});

// heavy rule under the first row of numbers
svg.append("rect").attr("x", 91).attr("y", 182).attr("width", 2158).attr("height", 5).attr("fill", black);

headerLabels.forEach(function(h) {
  var t = svg.append("text")
      .attr("transform", "translate(" + (h.x + 13) + ",147) rotate(-90)")
      .attr("font-size", 36)
      .attr("fill", h.b ? blue : black)
      .text(h.t);
  if (h.b) {
    t.append("tspan").attr("font-size", 24).attr("dy", 8).text("2");
    t.append("tspan").attr("dy", -8).text("F");
    t.append("tspan").attr("font-size", 24).attr("dy", 8).text("8");
  }
});

svg.append("text").attr("x", 2349).attr("y", 158).attr("text-anchor", "middle").attr("font-size", 30).text("Mbp");
svg.append("text").attr("x", 2462).attr("y", 123).attr("text-anchor", "middle").attr("font-size", 30).text("marker/");
svg.append("text").attr("x", 2462).attr("y", 162).attr("text-anchor", "middle").attr("font-size", 30).text("10 Mbp");
</script>
</body>
</html>
